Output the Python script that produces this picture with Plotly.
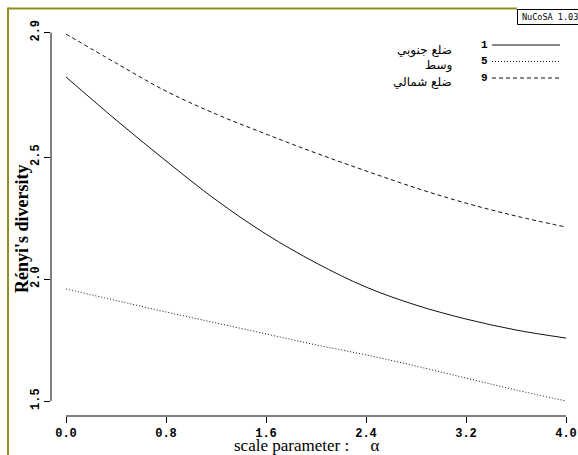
import plotly.graph_objects as go

# ---- data ----
alpha = [0.0, 0.4, 0.8, 1.2, 1.6, 2.0, 2.4, 2.8, 3.2, 3.6, 4.0]
renyi_1 = [2.828, 2.652, 2.484, 2.324, 2.184, 2.066, 1.967, 1.893, 1.836, 1.791, 1.758]
renyi_5 = [1.959, 1.912, 1.865, 1.820, 1.775, 1.730, 1.689, 1.643, 1.594, 1.545, 1.500]
renyi_9 = [3.004, 2.885, 2.770, 2.676, 2.594, 2.516, 2.443, 2.373, 2.311, 2.258, 2.213]

series_ids = ["1", "5", "9"]
series_labels = ["ضلع جنوبي", "وسط", "ضلع شمالي"]
series_values = [renyi_1, renyi_5, renyi_9]
series_dash = ["solid", "1px,2px", "4px,3px"]

x_tickvals = [0.0, 0.8, 1.6, 2.4, 3.2, 4.0]
x_ticktext = ["0.0", "0.8", "1.6", "2.4", "3.2", "4.0"]
y_tickvals = [1.5, 2.0, 2.5, 3.01]
y_ticktext = ["1.5", "2.0", "2.5", "2.9"]

# ---- figure geometry (screen pixels; page body margin removed) ----
W, H = 578, 455
scr_left, scr_right, scr_top, scr_bottom = 51, 578, 20, 416
L, T = scr_left, scr_top
R = W - scr_right
B = H - scr_bottom
pw, ph = W - L - R, H - T - B

def px(xp):
    return (xp - scr_left) / pw

def py(yp):
    return (scr_bottom - yp) / ph

# x: 0 -> screen 66, 4 -> screen 566
xr0 = (scr_left - 66) / 125.0
xr1 = (scr_right - 66) / 125.0
# y: 1.5 -> screen 401, 244 px per unit
yr0 = 1.5 - (scr_bottom - 401) / 244.0
yr1 = 1.5 + (401 - scr_top) / 244.0

fig = go.Figure()
for sid, vals, dash in zip(series_ids, series_values, series_dash):
    fig.add_trace(go.Scatter(x=alpha, y=vals, mode="lines", name=sid,
                             line=dict(color="#111111", width=1, dash=dash, shape="spline"),
                             hoverinfo="skip", showlegend=False))

tickfont = dict(family="Liberation Mono, DejaVu Sans Mono, monospace", size=12,
                color="#000000", weight="bold")

fig.update_layout(
    width=W, height=H,
    margin=dict(l=L, r=R, t=T, b=B, autoexpand=False),
    paper_bgcolor="white", plot_bgcolor="white",
    template="none",
    xaxis=dict(range=[xr0, xr1], tickvals=x_tickvals, ticktext=x_ticktext,
               ticks="outside", ticklen=6, tickwidth=1, tickcolor="#000",
               showgrid=False, zeroline=False, showline=False,
               tickfont=tickfont, automargin=False, fixedrange=True,
               ticklabeloverflow="allow"),
    yaxis=dict(range=[yr0, yr1], tickvals=y_tickvals, ticktext=y_ticktext,
               ticks="outside", ticklen=6, tickwidth=1, tickcolor="#000",
               showgrid=False, zeroline=False, showline=False, tickangle=-90,
               tickfont=tickfont, automargin=False, fixedrange=True),
    showlegend=False,
)

shapes = []
# axis lines spanning only the tick range
shapes.append(dict(type="line", xref="x", yref="paper", x0=x_tickvals[0], x1=x_tickvals[-1],
                   y0=0, y1=0, line=dict(color="#000", width=1)))
shapes.append(dict(type="line", xref="paper", yref="y", x0=0, x1=0,
                   y0=y_tickvals[0], y1=y_tickvals[-1], line=dict(color="#000", width=1)))
# olive frame (top and left)
shapes.append(dict(type="line", xref="paper", yref="paper", x0=px(8), x1=px(517),
                   y0=py(8.5), y1=py(8.5), line=dict(color="#8f8f1f", width=2)))
shapes.append(dict(type="line", xref="paper", yref="paper", x0=px(8), x1=px(8),
                   y0=py(7.5), y1=py(470), line=dict(color="#8f8f1f", width=2)))
# NuCoSA box
shapes.append(dict(type="rect", xref="paper", yref="paper", x0=px(517.5), x1=px(600),
                   y0=py(9.5), y1=py(24.5), line=dict(color="#000", width=1),
                   fillcolor="white"))

annotations = []
annotations.append(dict(text="NuCoSA 1.03", xref="paper", yref="paper", x=px(520), y=py(17),
                        xanchor="left", yanchor="middle", showarrow=False,
                        font=dict(family="DejaVu Sans Mono, monospace", size=8.5, color="#000")))

# legend
row_y = [45, 61.5, 78]
lab_y = [50, 66, 82]
for sid, lab, dash, ry, ly in zip(series_ids, series_labels, series_dash, row_y, lab_y):
    shapes.append(dict(type="line", xref="paper", yref="paper", x0=px(492), x1=px(560),
                       y0=py(ry), y1=py(ry), line=dict(color="#111", width=1, dash=dash)))
    annotations.append(dict(text=sid, xref="paper", yref="paper", x=px(484), y=py(ry),
                            xanchor="center", yanchor="middle", showarrow=False,
                            font=dict(family="Liberation Mono, monospace", size=11,
                                      color="#000", weight="bold")))
    annotations.append(dict(text=lab, xref="paper", yref="paper", x=px(454), y=py(ly),
                            xanchor="right", yanchor="middle", showarrow=False,
                            font=dict(family="DejaVu Sans, sans-serif", size=12, color="#000")))

# axis titles
annotations.append(dict(text="scale parameter :     α", xref="paper", yref="paper",
                        x=px(306), y=py(445), xanchor="center", yanchor="middle",
                        showarrow=False,
                        font=dict(family="Liberation Serif, serif", size=17, color="#000")))
annotations.append(dict(text="Rényi's diversity", xref="paper", yref="paper",
                        x=px(22), y=py(229), xanchor="center", yanchor="middle",
                        textangle=-90, showarrow=False,
                        font=dict(family="Liberation Serif, serif", size=18, color="#000",
                                  weight="bold")))

fig.update_layout(shapes=shapes, annotations=annotations)
fig.write_html("out.html", config={"displayModeBar": False},
               post_script="document.body.style.margin='0';document.body.style.overflow='hidden';")
